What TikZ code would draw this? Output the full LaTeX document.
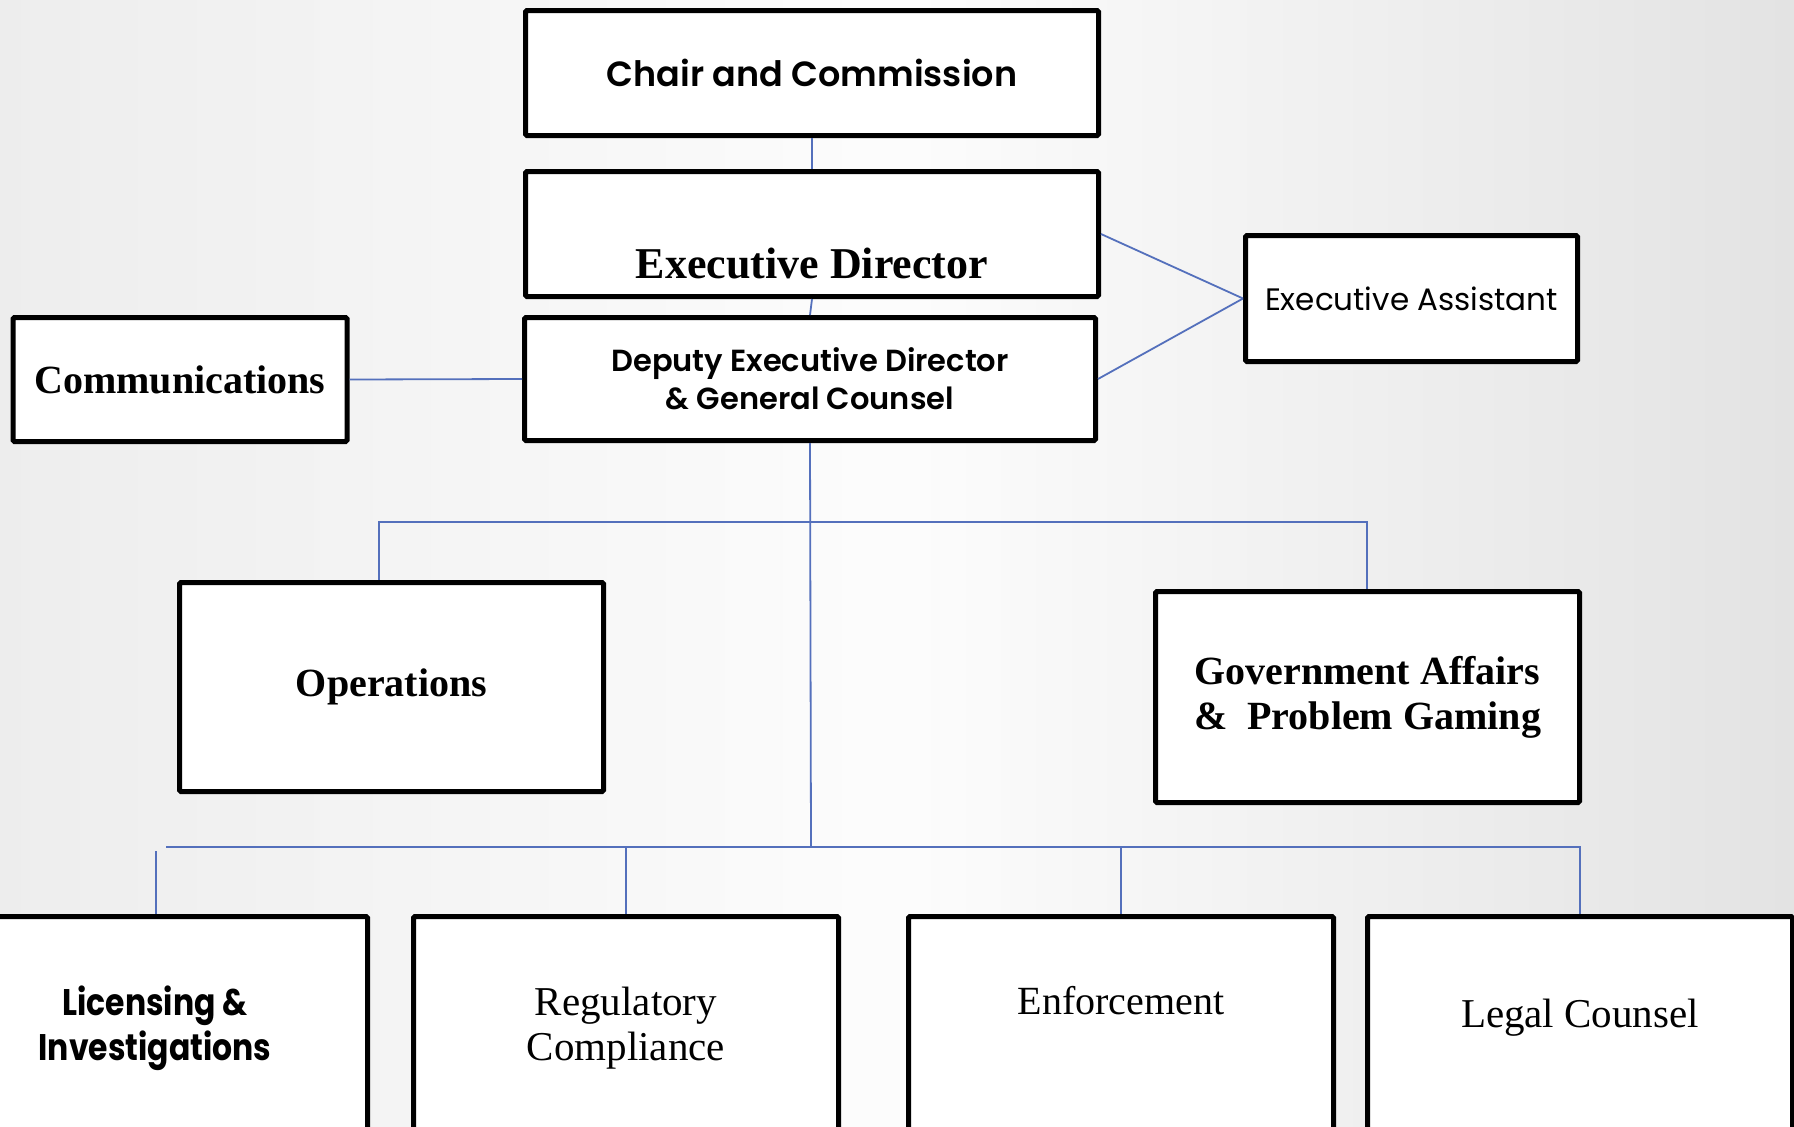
\documentclass[tikz,border=0pt]{standalone}
\usepackage{fontspec}
\setmainfont{Liberation Serif}
\newfontfamily\gothicfont{Poppins}[BoldFont={Poppins SemiBold}]
\newfontfamily\narrowgothic{Poppins}[FakeStretch=0.85]
\usepackage{tikz}

\definecolor{linkblue}{RGB}{84,112,188}

\tikzset{
  orgbox/.style={draw=black, fill=white, line width=5pt, rounded corners=1.5pt,
    inner sep=0pt, align=center, anchor=center},
  link/.style={draw=linkblue, line width=1.8pt},
  gothicbold/.style={font=\gothicfont\bfseries\fontsize{#1}{1.25\dimexpr#1pt\relax}\selectfont},
  serifbold/.style={font=\bfseries\fontsize{#1}{45}\selectfont},
  serifplain/.style={font=\fontsize{#1}{45}\selectfont}
}

\begin{document}
\begin{tikzpicture}[x=1pt,y=1pt,yscale=-1]
    \useasboundingbox (0,0) rectangle (1794,1127);

    % background
    \shade[left color=black!7, right color=black!11, middle color=black!1] (0,0) rectangle (1794,1127);

    %Shape: Rectangle -- top of the chart
    \node (chair) at (812,73) [orgbox, minimum width=573, minimum height=125, gothicbold=35] {Chair and Commission};
    \node (exec) at (812,234) [orgbox, minimum width=573, minimum height=125, serifbold=44, text height=88pt, text depth=0pt] {Executive Director};
    \node (deputy) at (810,379) [orgbox, minimum width=571, minimum height=123, gothicbold=30.5] {Deputy Executive Director\\ \& General Counsel};

    %Shape: Rectangle -- sides
    \node (comms) at (180,379.5) [orgbox, minimum width=334, minimum height=124, serifbold=40] {Communications};
    \node (assist) at (1411.5,298.5) [orgbox, minimum width=332, minimum height=126, font=\gothicfont\fontsize{31}{38}\selectfont] {Executive Assistant};

    %Shape: Rectangle -- middle row
    \node (ops) at (391.5,687) [orgbox, minimum width=424, minimum height=209, serifbold=40] {Operations};
    \node (gov) at (1367.5,697) [orgbox, minimum width=424, minimum height=211, serifbold=40] {Government Affairs\\ \&~ Problem Gaming};

    %Shape: Rectangle -- bottom row
    \node (lic) at (155,1028) [orgbox, minimum width=425, minimum height=223, font=\narrowgothic\bfseries\fontsize{37}{45}\selectfont] {Licensing \&\\ Investigations};
    \node (reg) at (626,1028) [orgbox, minimum width=425, minimum height=223, serifplain=41] {Regulatory\\ Compliance};
    \node (enf) at (1121,1028) [orgbox, minimum width=425, minimum height=223, serifplain=40, text height=10pt, text depth=38pt] {Enforcement};
    \node (legal) at (1580,1028) [orgbox, minimum width=425, minimum height=223, serifplain=41, text height=20pt, text depth=22pt] {Legal Counsel};

    % junction points
    \coordinate (opstop) at (379,522);
    \coordinate (govtop) at (1367,522);
    \coordinate (hub) at (811,847);
    \coordinate (busL) at (166,847);
    \coordinate (busR) at (1580,847);
    \coordinate (licdrop) at (156,851);

    %Straight Lines
    \draw[link] (chair.south) -- (exec.north);
    \draw[link] (exec.south) -- (deputy.north);
    \draw[link] (comms.east) -- (deputy.west);
    \draw[link] (exec.east) -- (assist.west);
    \draw[link] (deputy.east) -- (assist.west);
    \draw[link] (deputy.south) -- (hub);
    \draw[link] (opstop |- ops.north) -- (opstop) -- (govtop) -- (govtop |- gov.north);
    \draw[link] (busL) -- (busR) -- (busR |- legal.north);
    \draw[link] (licdrop) -- (licdrop |- lic.north);
    \draw[link] (hub -| reg.north) -- (reg.north);
    \draw[link] (hub -| enf.north) -- (enf.north);

\end{tikzpicture}
\end{document}
